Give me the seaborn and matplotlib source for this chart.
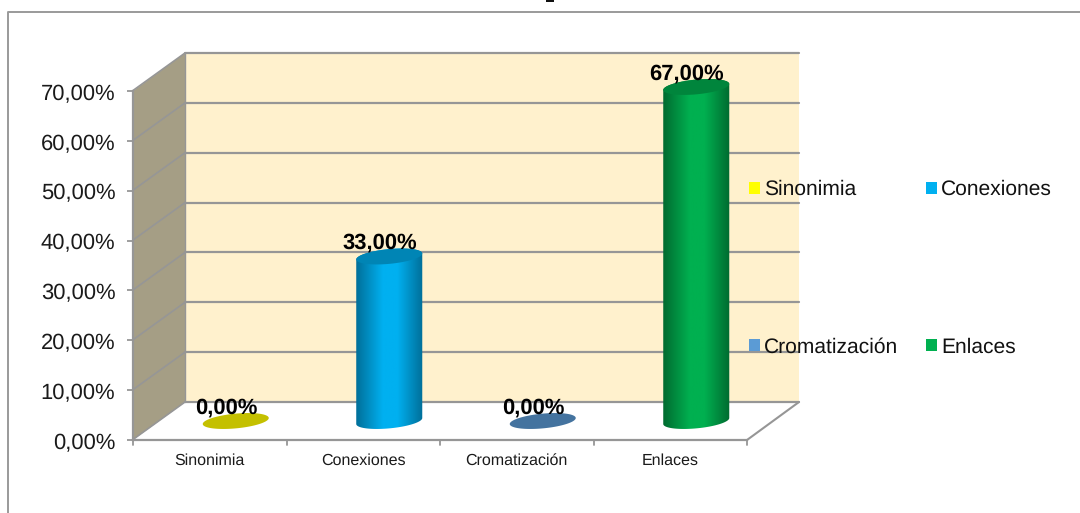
import numpy as np
import seaborn as sns
import matplotlib.pyplot as plt
from matplotlib.colors import LinearSegmentedColormap
from matplotlib.lines import Line2D
from matplotlib.patches import Patch, Polygon, Rectangle
from matplotlib.transforms import ScaledTranslation

# Data
categories = ['Sinonimia', 'Conexiones', 'Cromatización', 'Enlaces']
values = [0, 33, 0, 67]
value_labels = ['0,00%', '33,00%', '0,00%', '67,00%']
y_ticks = [0, 10, 20, 30, 40, 50, 60, 70]
y_tick_labels = ['0,00%', '10,00%', '20,00%', '30,00%', '40,00%', '50,00%', '60,00%', '70,00%']

# Colours
legend_colors = ['#FFFF00', '#00B0F0', '#5B9BD5', '#00B050']
top_colors = ['#C4C000', '#0085B5', '#44739F', '#00853C']
side_dark = ['#8F8C00', '#006F99', '#33587A', '#006B30']
wall_color = '#A59E85'
back_color = '#FFF1CD'
grid_color = '#969696'

W, H = 1080, 513

sns.set_theme(style='white')
plt.rcParams['font.family'] = ['Liberation Sans', 'DejaVu Sans']
plt.rcParams['text.hinting'] = 'no_hinting'
plt.rcParams['text.hinting_factor'] = 1

fig = plt.figure(figsize=(W / 100, H / 100), dpi=100)
ax = fig.add_axes([133 / W, 1 - 440 / H, (747 - 133) / W, (440 - 91) / H])
ax.patch.set_visible(False)

sns.barplot(x=categories, y=values, hue=categories, palette=legend_colors,
            width=0.43, legend=False, ax=ax)
bars = list(ax.patches)

x_lo, x_hi = -0.5, 3.5
y_lo, y_hi = 0, 70
depth_x = 52 / 153.5   # depth of the fake 3d box, in category units
depth_y = 38 / 4.986   # same, in value units

# Walls
ax.add_patch(Polygon([(x_lo + depth_x, y_lo + depth_y), (x_hi + depth_x, y_lo + depth_y),
                      (x_hi + depth_x, y_hi + depth_y), (x_lo + depth_x, y_hi + depth_y)],
                     fc=back_color, ec='none', clip_on=False, zorder=0))
ax.add_patch(Polygon([(x_lo, y_lo), (x_lo + depth_x, y_lo + depth_y),
                      (x_lo + depth_x, y_hi + depth_y), (x_lo, y_hi)],
                     fc=wall_color, ec='none', clip_on=False, zorder=0))

# Gridlines, on both walls
for v in y_ticks:
    ax.plot([x_lo, x_lo + depth_x], [v + 0.1, v + depth_y], color=grid_color, lw=1.2,
            clip_on=False, zorder=1)
    ax.plot([x_lo + depth_x, x_hi + depth_x], [v + depth_y, v + depth_y], color=grid_color,
            lw=1.6, clip_on=False, zorder=1)
ax.plot([x_lo + depth_x, x_lo + depth_x], [depth_y, y_hi + depth_y], color=grid_color, lw=1.0,
        clip_on=False, zorder=1)
ax.plot([x_hi, x_hi + depth_x], [y_lo, depth_y], color=grid_color, lw=1.5, clip_on=False, zorder=1)

# Cylinders, built from the seaborn bars
t = np.linspace(0, 2 * np.pi, 121)
half_h = 1.48
shear = 0.6

for i, bar in enumerate(bars):
    bar.set_visible(False)
    a = bar.get_width() / 2
    cx = bar.get_x() + a + depth_x / 2
    base = depth_y / 2
    top = base + bar.get_height()

    if bar.get_height() > 0:
        low = np.linspace(np.pi, 2 * np.pi, 60)
        high = np.linspace(0, np.pi, 60)
        xs = np.r_[cx + a * np.cos(low), cx + a * np.cos(high)]
        ys = np.r_[base + half_h * np.sin(low) + shear * np.cos(low),
                   top + half_h * np.sin(high) + shear * np.cos(high)]
        body = Polygon(np.c_[xs, ys], fc='none', ec='none', zorder=3, clip_on=False)
        ax.add_patch(body)
        cmap = LinearSegmentedColormap.from_list(
            'c', [(0, side_dark[i]), (0.4, legend_colors[i]), (0.62, legend_colors[i]),
                  (1, side_dark[i])])
        im = ax.imshow(np.linspace(0, 1, 128)[None, :], cmap=cmap, aspect='auto', zorder=3,
                       extent=(cx - a, cx + a, base - 3, top + 3))
        im.set_clip_path(body)
        im.set_clip_box(fig.bbox)

    ax.fill(cx + a * np.cos(t), top + half_h * np.sin(t) + shear * np.cos(t),
            color=top_colors[i], lw=0, zorder=4, clip_on=False)
    ax.annotate(value_labels[i], (cx, top), xytext=(-7, 9.7), textcoords='offset points',
                ha='center', va='center', fontsize=15.5, fontweight='bold', color='black',
                zorder=5, annotation_clip=False)

ax.set_xlim(x_lo, x_hi)
ax.set_ylim(y_lo, y_hi)

# Axes
sns.despine(ax=ax, top=True, right=True)
for side in ['left', 'bottom']:
    ax.spines[side].set_color(grid_color)
    ax.spines[side].set_linewidth(1.6)
    ax.spines[side].set_zorder(2)
ax.set_yticks(y_ticks)
ax.set_yticklabels(y_tick_labels, fontsize=15.5, color='#1a1a1a')
ax.set_xticks(range(len(categories)))
ax.set_xticklabels(categories, fontsize=11.7, color='#1a1a1a', va='baseline')
ax.tick_params(axis='x', length=0, pad=18)
ax.tick_params(axis='y', length=4, width=1.3, color=grid_color, left=True, pad=8.7)
shift = ScaledTranslation(0, -1 / 100, fig.dpi_scale_trans)
for label in ax.get_yticklabels():
    label.set_transform(label.get_transform() + shift)
for b in np.arange(x_lo, x_hi + 1):
    ax.plot([b, b], [y_lo, -1], color=grid_color, lw=1.3, clip_on=False, zorder=2)
ax.set_xlim(x_lo, x_hi)
ax.set_ylim(y_lo, y_hi)

# Legend fills by column
order = [0, 2, 1, 3]
handles = [Patch(fc=legend_colors[i], ec='none', label=categories[i]) for i in order]
fig.legend(handles=handles, ncol=2, loc='upper left', frameon=False,
           bbox_to_anchor=(749 / W, 1 - 180 / H), bbox_transform=fig.transFigure,
           fontsize=15.4, labelspacing=6.45, columnspacing=1.3, handlelength=0.5,
           handleheight=0.5, handletextpad=0.2, borderpad=0, borderaxespad=0,
           labelcolor='#111111')

# Outer chart frame, cut off at the right and bottom of the picture
fig.add_artist(Line2D([8 / W, 8 / W, 1], [0, 1 - 12 / H, 1 - 12 / H], color='#9A9A9A', lw=1.4))
# Sliver of the cropped title
fig.add_artist(Rectangle((546 / W, 1 - 2 / H), 8 / W, 2 / H, fc='#111111', ec='none'))

fig.savefig('out.png', dpi=100)
